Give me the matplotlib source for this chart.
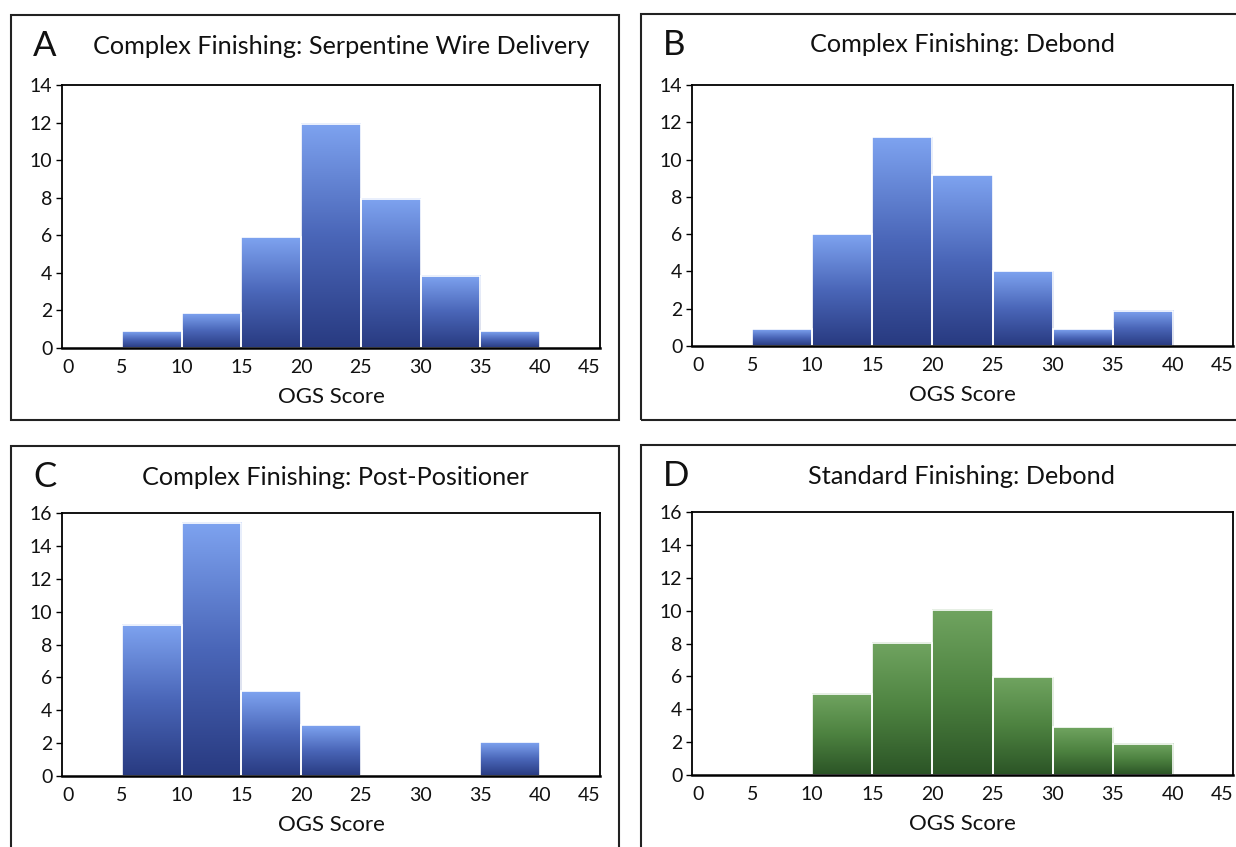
import numpy as np
import matplotlib
matplotlib.use("Agg")
import matplotlib.pyplot as plt
from matplotlib.patches import Rectangle
from matplotlib.colors import LinearSegmentedColormap

plt.rcParams['font.family'] = ['Lato', 'DejaVu Sans']

# histogram bins (left edges), width 5
bin_left = [0, 5, 10, 15, 20, 25, 30, 35, 40]
x_ticks = [0, 5, 10, 15, 20, 25, 30, 35, 40, 45]

counts_a = [0, 0.9, 1.85, 5.9, 11.95, 7.95, 3.85, 0.9, 0]
counts_b = [0, 0.9, 6.0, 11.2, 9.15, 4.0, 0.9, 1.9, 0]
counts_c = [0, 9.2, 15.4, 5.15, 3.1, 0, 0, 2.05, 0]
counts_d = [0, 0, 4.95, 8.05, 10.05, 5.95, 2.9, 1.9, 0]

titles = ["Complex Finishing: Serpentine Wire Delivery",
          "Complex Finishing: Debond",
          "Complex Finishing: Post-Positioner",
          "Standard Finishing: Debond"]
letters = ["A", "B", "C", "D"]
ymax = [14, 14, 16, 16]

blue = LinearSegmentedColormap.from_list("blue", ["#283a80", "#4a66b8", "#7ea3f0"])
green = LinearSegmentedColormap.from_list("green", ["#2b5426", "#4d8240", "#70a460"])

W, H = 1236, 847
fig = plt.figure(figsize=(W / 100, H / 100), dpi=100)

def px_axes(l, t, r, b):
    return fig.add_axes([l / W, 1 - b / H, (r - l) / W, (b - t) / H])

# panel boxes (left, top, right, bottom) in pixels
boxes = [(11, 15, 619, 420), (641, 14, 1245, 420), (11, 446, 619, 860), (641, 445, 1245, 860)]
axes_px = [(62, 85, 600, 348), (692, 85, 1233, 346), (62, 513, 600, 776), (692, 512, 1233, 775)]
title_x = [341, 962, 335, 962]

for i, counts in enumerate([counts_a, counts_b, counts_c, counts_d]):
    l, t, r, b = boxes[i]
    fig.patches.append(Rectangle((l / W, 1 - b / H), (r - l) / W, (b - t) / H,
                                 transform=fig.transFigure, fill=False,
                                 edgecolor="#222222", linewidth=1.5))
    ax = px_axes(*axes_px[i])
    cmap = green if i == 3 else blue
    grad = np.linspace(0, 1, 256).reshape(-1, 1)
    for x0, h in zip(bin_left, counts):
        if h <= 0:
            continue
        ax.imshow(grad, extent=(x0, x0 + 5, 0, h), origin="lower",
                  cmap=cmap, aspect="auto", zorder=2)
        ax.add_patch(Rectangle((x0, 0), 5, h, fill=False, edgecolor="white",
                               linewidth=1.2, zorder=3))
    ax.set_xlim(0, 45)
    ax.set_ylim(0, ymax[i])
    ax.set_xticks(x_ticks)
    ax.set_yticks(np.arange(0, ymax[i] + 1, 2))
    ax.tick_params(axis="x", length=0, labelsize=14, pad=8, labelcolor="#111111")
    ax.tick_params(axis="y", length=4, width=1, labelsize=14, pad=3, labelcolor="#111111")
    xl = ax.get_xticklabels()
    xl[0].set_ha("left")
    xl[-1].set_ha("right")
    for s in ax.spines.values():
        s.set_linewidth(1.3)
        s.set_zorder(5)
    ax.spines["bottom"].set_linewidth(1.8)
    ax.set_xlabel("OGS Score", fontsize=16, labelpad=8, color="#111111")

    # panel letter and title
    fig.text((l + 22) / W, 1 - (t + 31) / H, letters[i], fontsize=25,
             va="center", ha="left", color="#111111")
    fig.text(title_x[i] / W, 1 - (t + 31) / H, titles[i], fontsize=18.2,
             va="center", ha="center", color="#111111")

fig.savefig("out.png", dpi=100)
